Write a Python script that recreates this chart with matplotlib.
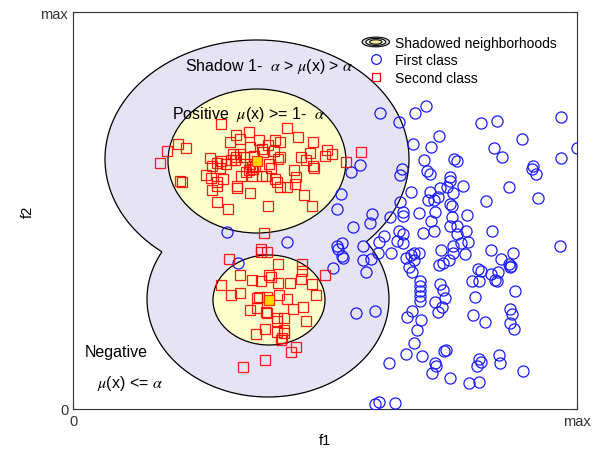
import numpy as np
import matplotlib
matplotlib.use('Agg')
import matplotlib.pyplot as plt
from matplotlib.patches import Ellipse, Patch
from matplotlib.lines import Line2D
from matplotlib.legend_handler import HandlerBase

plt.rcParams['font.family'] = ['Liberation Sans', 'DejaVu Sans']
plt.rcParams['mathtext.fontset'] = 'stix'

# axis range (arbitrary units, "0" .. "max")
x_max = 504
y_max = 397

# first class (blue circles)
blue_x = [307, 342, 353, 326, 408, 424, 488, 366, 340, 358, 449, 421, 504, 429, 488, 351, 381, 384,
          287, 278, 329, 327, 354, 357, 460, 459, 463, 377, 377, 367, 374, 390, 436, 268, 338, 357,
          380, 365, 355, 361, 413, 465, 327, 377, 379, 299, 297, 317, 330, 330, 346, 362, 379, 394,
          358, 280, 326, 330, 350, 361, 377, 384, 384, 393, 419, 311, 306, 290, 324, 330, 388, 395,
          380, 269, 487, 269, 270, 290, 298, 305, 293, 318, 368, 380, 392, 418, 440, 333, 338, 341,
          346, 341, 336, 339, 366, 370, 376, 428, 436, 438, 437, 405, 408, 399, 406, 418, 422, 425,
          424, 442, 347, 347, 347, 347, 347, 367, 370, 372, 362, 369, 365, 402, 283, 302, 339, 334,
          348, 400, 412, 437, 439, 437, 441, 344, 341, 333, 349, 316, 371, 373, 362, 363, 359, 377,
          406, 408, 404, 426, 427, 450, 396, 406, 302, 306, 322, 264, 154, 214, 165, 260, 264, 265]
blue_y = [296, 296, 303, 287, 286, 288, 292, 273, 265, 262, 270, 261, 261, 252, 251, 249, 250, 248,
          244, 237, 240, 234, 238, 235, 243, 240, 235, 232, 228, 221, 222, 223, 222, 215, 217, 217,
          216, 212, 209, 209, 208, 211, 207, 205, 203, 195, 186, 192, 197, 193, 196, 197, 192, 194,
          188, 182, 178, 175, 176, 178, 183, 183, 175, 178, 178, 173, 167, 163, 168, 166, 166, 167,
          163, 166, 163, 153, 151, 149, 150, 156, 137, 156, 159, 156, 155, 159, 156, 151, 154, 156,
          156, 149, 142, 137, 144, 146, 149, 150, 145, 143, 142, 140, 138, 128, 128, 135, 129, 137,
          128, 118, 128, 123, 118, 113, 108, 125, 119, 111, 107, 102, 97, 112, 96, 98, 98, 92,
          89, 94, 87, 100, 95, 86, 80, 79, 66, 55, 53, 46, 58, 59, 46, 43, 36, 31,
          50, 47, 43, 54, 46, 38, 26, 27, 5, 7, 6, 200, 177, 167, 146, 141, 163, 160]

# second class (red squares)
red_x = [148, 176, 214, 225, 163, 167, 157, 186, 195, 202, 207, 240, 105, 113, 94, 87, 288, 254,
         252, 259, 160, 163, 162, 158, 167, 171, 177, 181, 189, 190, 201, 207, 205, 137, 139, 144,
         148, 147, 153, 177, 180, 176, 182, 179, 196, 198, 228, 233, 237, 221, 223, 222, 241, 240,
         273, 107, 109, 133, 138, 144, 150, 168, 173, 179, 189, 193, 202, 204, 207, 214, 139, 144,
         164, 164, 177, 231, 144, 155, 195, 239, 191,
         188, 188, 194, 156, 205, 229, 229, 167, 196, 198, 252, 179, 188, 205, 217, 228, 148, 239,
         158, 167, 184, 186, 194, 206, 214, 243, 177, 184, 193, 194, 220, 230, 204, 204, 211, 233,
         192, 183, 204, 211, 211, 209, 208, 223, 218, 192, 170]
red_y = [285, 277, 281, 272, 274, 270, 267, 269, 264, 269, 267, 267, 265, 261, 258, 246, 257, 259,
         253, 255, 255, 252, 249, 249, 255, 252, 262, 253, 260, 257, 258, 252, 250, 251, 243, 246,
         248, 241, 245, 245, 240, 239, 243, 242, 245, 241, 252, 249, 256, 239, 232, 225, 241, 243,
         247, 228, 227, 234, 231, 227, 230, 233, 237, 233, 233, 233, 230, 227, 222, 222, 219, 223,
         223, 221, 216, 214, 207, 200, 203, 203, 176,
         160, 157, 157, 150, 145, 145, 138, 134, 134, 132, 134, 129, 128, 126, 126, 130, 124, 125,
         114, 116, 111, 112, 112, 114, 110, 114, 99, 101, 97, 96, 100, 102, 91, 88, 91, 88,
         80, 75, 77, 79, 76, 71, 69, 62, 57, 49, 42]

# neighbourhood centres (highlighted squares)
center_x = [184, 196]
center_y = [248, 109]

# shadow region: two lobes (cx, cy, a, b)
shadow_lobes = [(184, 250, 152, 119), (195, 110, 121, 98)]
# positive regions (cx, cy, a, b)
positive_regions = [(184, 248, 89, 72), (196, 109, 56, 45)]


class ShadowHandler(HandlerBase):
    def create_artists(self, legend, orig_handle, xdescent, ydescent,
                       width, height, fontsize, trans):
        cx = width / 2 - xdescent
        cy = height / 2 - ydescent
        arts = []
        for s, fc in [(1.0, '#d4d4e4'), (0.72, 'white'), (0.45, '#f5f0a0')]:
            arts.append(Ellipse((cx, cy), width * 1.1 * s, height * 1.0 * s,
                                facecolor=fc, edgecolor='black', lw=0.8,
                                transform=trans))
        return arts


fig = plt.figure(figsize=(6.0, 4.6), dpi=100)
ax = fig.add_axes([73 / 600, 1 - 410 / 460, 504 / 600, 397 / 460])

# shadow region as union of two lobes
gx, gy = np.meshgrid(np.linspace(0, x_max, 600), np.linspace(0, y_max, 500))
f = np.minimum.reduce([((gx - cx) / a) ** 2 + ((gy - cy) / b) ** 2
                       for cx, cy, a, b in shadow_lobes])
ax.contourf(gx, gy, f, levels=[0, 1], colors=['#e6e3f5'], zorder=1)
ax.contour(gx, gy, f, levels=[1], colors='black', linewidths=0.9, zorder=2)

for cx, cy, a, b in positive_regions:
    ax.add_patch(Ellipse((cx, cy), 2 * a, 2 * b, facecolor='#ffffcc',
                         edgecolor='black', lw=0.9, zorder=3))

ax.plot(blue_x, blue_y, 'o', ls='none', ms=8, mfc='none', mec='#1a1aff',
        mew=0.9, zorder=4)
ax.plot(red_x, red_y, 's', ls='none', ms=6.5, mfc='none', mec='#ff0000',
        mew=0.9, alpha=0.9, zorder=5)
ax.plot(center_x, center_y, 's', ls='none', ms=6.5, mfc='#ffd700', mec='#ff3000',
        mew=0.9, zorder=6)

ax.text(112, 344, r'Shadow 1-  $\alpha$ > $\mu$(x) > $\alpha$', fontsize=11.5,
        va='center', zorder=7)
ax.text(99, 295, r'Positive  $\mu$(x) >= 1-  $\alpha$', fontsize=11.5,
        va='center', zorder=7)
ax.text(12, 57, 'Negative', fontsize=11.5, va='center', zorder=7)
ax.text(24, 26, r'$\mu$(x) <= $\alpha$', fontsize=11.5, va='center', zorder=7)

handles = [Patch(),
           Line2D([], [], marker='o', ls='none', ms=7, mfc='none', mec='#1a1aff', mew=0.9),
           Line2D([], [], marker='s', ls='none', ms=6, mfc='none', mec='#ff0000', mew=0.9)]
labels = ['Shadowed neighborhoods', 'First class', 'Second class']
ax.legend(handles, labels, handler_map={Patch: ShadowHandler()},
          loc='upper left', bbox_to_anchor=(0.576, 0.94), frameon=False,
          fontsize=10, handlelength=1.8, handletextpad=0.5,
          labelspacing=0.25, borderaxespad=0, borderpad=0)

ax.set_xlim(0, x_max)
ax.set_ylim(0, y_max)
ax.set_xticks([0, x_max])
ax.set_xticklabels(['0', 'max'])
ax.set_yticks([0, y_max])
ax.set_yticklabels(['0', 'max'])
ax.tick_params(direction='in', length=3, top=True, right=True,
               labelsize=10.5, colors='#333333')
for s in ax.spines.values():
    s.set_color('#333333')
ax.set_xlabel('f1', fontsize=10.5)
ax.set_ylabel('f2', fontsize=10.5)

fig.savefig('out.png', dpi=100)
